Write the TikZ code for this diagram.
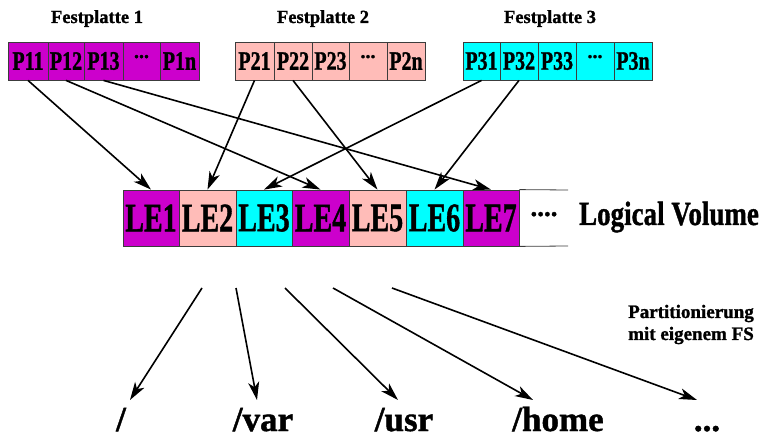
\documentclass[tikz,border=0pt]{standalone}
\usepackage{fontspec}
\setmainfont{Liberation Serif}[BoldFeatures={FakeBold=1.2}]
\usepackage{graphicx}
\usetikzlibrary{arrows.meta}
\definecolor{lvpurple}{RGB}{204,0,204}
\definecolor{lvpink}{RGB}{255,188,184}
\definecolor{lvcyan}{RGB}{0,255,255}
\definecolor{lvborder}{RGB}{60,60,60}
\newcommand{\vstr}[2]{\scalebox{1}[#1]{#2}}
\newcommand{\pdots}{\raisebox{9pt}{...}}
\begin{document}
\begin{tikzpicture}[x=1pt,y=-1pt,
  pcell/.style={draw=lvborder, line width=0.8pt, minimum height=38pt, inner sep=0pt,
    font=\bfseries\fontsize{20}{20}\selectfont},
  lecell/.style={draw=lvborder, line width=0.8pt, minimum height=56pt, inner sep=0pt,
    font=\bfseries\fontsize{28}{28}\selectfont},
  title/.style={anchor=base, inner sep=0pt, font=\bfseries\fontsize{18.5}{18.5}\selectfont},
  mount/.style={anchor=base, inner sep=0pt, font=\bfseries\fontsize{35}{35}\selectfont},
  link/.style={line width=1.6pt, -{Stealth[length=18pt, width=11pt, inset=5pt]}},
  edge/.style={draw=lvborder, line width=0.8pt}
]
\useasboundingbox (0,0) rectangle (763,438);

% titles
\node[title] (t1) at (97,23) {Festplatte 1};
\node[title] (t2) at (323,23) {Festplatte 2};
\node[title] (t3) at (550,23) {Festplatte 3};

% disk 1
\node[pcell, fill=lvpurple, minimum width=40pt] (p11) at (28,61) {\vstr{1.33}{P11}};
\node[pcell, fill=lvpurple, minimum width=36pt] (p12) at (66,61) {\vstr{1.33}{P12}};
\node[pcell, fill=lvpurple, minimum width=39pt] (p13) at (103.5,61) {\vstr{1.33}{P13}};
\node[pcell, fill=lvpurple, minimum width=37pt] (p14) at (141.5,61) {\pdots};
\node[pcell, fill=lvpurple, minimum width=39pt] (p1n) at (179.5,61) {\vstr{1.33}{P1n}};
% disk 2
\node[pcell, fill=lvpink, minimum width=39pt] (p21) at (254.5,61) {\vstr{1.33}{P21}};
\node[pcell, fill=lvpink, minimum width=38pt] (p22) at (293,61) {\vstr{1.33}{P22}};
\node[pcell, fill=lvpink, minimum width=37pt] (p23) at (330.5,61) {\vstr{1.33}{P23}};
\node[pcell, fill=lvpink, minimum width=38pt] (p24) at (368,61) {\pdots};
\node[pcell, fill=lvpink, minimum width=38pt] (p2n) at (406,61) {\vstr{1.33}{P2n}};
% disk 3
\node[pcell, fill=lvcyan, minimum width=37pt] (p31) at (481.5,61) {\vstr{1.33}{P31}};
\node[pcell, fill=lvcyan, minimum width=38pt] (p32) at (519,61) {\vstr{1.33}{P32}};
\node[pcell, fill=lvcyan, minimum width=38pt] (p33) at (557,61) {\vstr{1.33}{P33}};
\node[pcell, fill=lvcyan, minimum width=38pt] (p34) at (595,61) {\pdots};
\node[pcell, fill=lvcyan, minimum width=38pt] (p3n) at (633,61) {\vstr{1.33}{P3n}};

% logical volume
\node[lecell, fill=lvpurple, minimum width=56pt] (le1) at (151,218) {\vstr{1.45}{LE1}};
\node[lecell, fill=lvpink, minimum width=57pt] (le2) at (207.5,218) {\vstr{1.45}{LE2}};
\node[lecell, fill=lvcyan, minimum width=56pt] (le3) at (264,218) {\vstr{1.45}{LE3}};
\node[lecell, fill=lvpurple, minimum width=57pt] (le4) at (320.5,218) {\vstr{1.45}{LE4}};
\node[lecell, fill=lvpink, minimum width=57pt] (le5) at (377.5,218) {\vstr{1.45}{LE5}};
\node[lecell, fill=lvcyan, minimum width=57pt] (le6) at (434.5,218) {\vstr{1.45}{LE6}};
\node[lecell, fill=lvpurple, minimum width=56pt] (le7) at (491,218) {\vstr{1.45}{LE7}};
\coordinate (ot) at (568,190);
\coordinate (ob) at (568,246);
\draw[edge] (le7.north east) -- (ot);
\draw[edge] (le7.south east) -- (ob);
\node[anchor=base, inner sep=0pt, font=\bfseries\fontsize{27}{27}\selectfont] (more) at (544,216) {....};
\node[anchor=base, inner sep=0pt, font=\bfseries\fontsize{27}{27}\selectfont] (lv) at (669,225) {\vstr{1.25}{Logical Volume}};

% mapping arrows
\draw[link] (p11.south) -- (le1.north);
\draw[link] (p12.south) -- (le4.north);
\draw[link] (p13.south) -- (le7.north);
\draw[link] (p21.south) -- (le2.north);
\draw[link] (p22.south) -- (le5.north);
\draw[link] (p31.south) -- (le3.north);
\draw[link] (p32.south) -- (le6.north);

% partitioning
\coordinate (s1) at (202,288);
\coordinate (s2) at (236,288);
\coordinate (s3) at (285,288);
\coordinate (s4) at (333,288);
\coordinate (s5) at (392,288);
\coordinate (e1) at (130,400);
\coordinate (e2) at (257,400);
\coordinate (e3) at (398,400);
\coordinate (e4) at (533,400);
\coordinate (e5) at (697,400);
\draw[link] (s1) -- (e1);
\draw[link] (s2) -- (e2);
\draw[link] (s3) -- (e3);
\draw[link] (s4) -- (e4);
\draw[link] (s5) -- (e5);

\node[mount] (root) at (121,431) {/};
\node[mount] (var) at (263,431) {/var};
\node[mount] (usr) at (404,431) {/usr};
\node[mount] (home) at (558,431) {/home};
\node[mount] (etc) at (707,431) {...};

\node[anchor=base, inner sep=0pt, align=center, font=\bfseries\fontsize{19}{22}\selectfont] (part) at (691,340) {Partitionierung\\mit eigenem FS};
\end{tikzpicture}
\end{document}
